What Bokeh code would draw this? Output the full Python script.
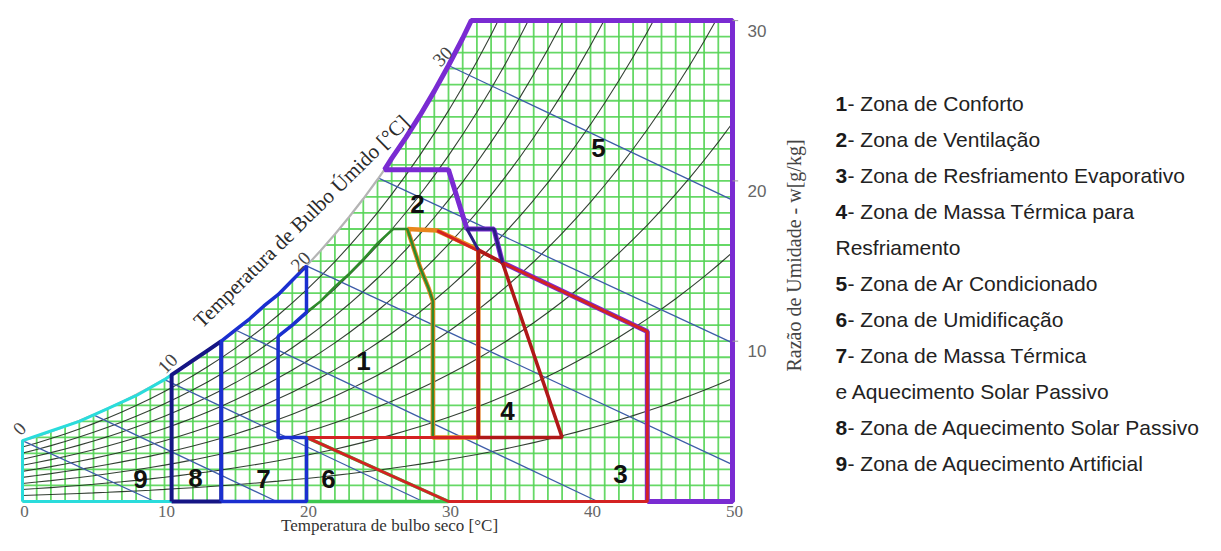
import numpy as np
from bokeh.plotting import figure
from bokeh.models import Range1d
from bokeh.core.properties import value
from bokeh.embed import file_html
from bokeh.resources import INLINE

# ------------------------------------------------------------------ data
# saturation vapour pressure of water (kPa) for dry-bulb 0..50 °C
temp_c = list(range(0, 51))
p_sat_kpa = [0.6112, 0.6571, 0.7060, 0.7581, 0.8135, 0.8726, 0.9354, 1.0021, 1.0730, 1.1482,
             1.2282, 1.3129, 1.4028, 1.4981, 1.5989, 1.7057, 1.8187, 1.9383, 2.0647, 2.1982,
             2.3392, 2.4881, 2.6452, 2.8109, 2.9856, 3.1697, 3.3637, 3.5679, 3.7828, 4.0089,
             4.2467, 4.4966, 4.7592, 5.0351, 5.3247, 5.6286, 5.9475, 6.2818, 6.6324, 6.9997,
             7.3844, 7.7873, 8.2090, 8.6503, 9.1118, 9.5944, 10.099, 10.626, 11.177, 11.752,
             12.352]
p_atm_kpa = 101.325
rh_levels = [0.1, 0.2, 0.3, 0.4, 0.5, 0.6, 0.7, 0.8, 0.9]
sat_top_T = 31.6          # dry bulb where the saturation curve reaches w = 30 g/kg
w_top = 30                # top of the chart (g/kg)

# wet-bulb lines (°C): start on saturation curve, end on chart border
wb_temps = [0, 5, 10, 15, 20, 25, 30]
wb_start_w = [3.8, 5.4, 7.6, 10.7, 14.7, 20.2, 27.2]
wb_end_T = [9.3, 17.9, 28.2, 40.5, 50, 50, 50]
wb_end_w = [0, 0, 0, 0, 2.3, 9.9, 18.8]

# bioclimatic zones (dry bulb °C, humidity ratio g/kg)
zone9_T = [0, 0, 2, 4, 6, 8, 10, 10.5, 10.5, 0]
zone9_w = [0, 3.8, 4.4, 5.0, 5.8, 6.6, 7.6, 7.9, 0, 0]
zone8_T = [10.5, 10.5, 11, 12, 13, 14, 14, 10.5]
zone8_w = [0, 7.9, 8.2, 8.8, 9.4, 10.0, 0, 0]
zone7_T = [14, 14, 15, 16, 17, 18, 19, 20, 20, 19, 18, 18, 20, 20, 14]
zone7_w = [0, 10.0, 10.7, 11.4, 12.2, 12.9, 13.8, 14.7, 11.8, 11.0, 10.3, 4, 4, 0, 0]
zone1_T = [18, 18, 19, 20, 21, 22, 23, 24, 25, 26.1, 27.1, 28.0, 28.6, 28.9, 28.9, 18]
zone1_w = [4, 10.3, 11.0, 11.8, 12.5, 13.4, 14.2, 15.1, 16.1, 17.0, 17.0, 14.6, 13.3, 12.5, 4, 4]
zone2_T = [27.1, 29.2, 32.1, 32.1, 28.9, 28.9, 28.6, 28.0, 27.1]
zone2_w = [17.0, 16.9, 15.7, 4, 4, 12.5, 13.3, 14.6, 17.0]
zone3_T = [29.2, 33.8, 44, 44, 30, 20, 32.1, 32.1]
zone3_w = [16.9, 14.9, 10.6, 0, 0, 4, 4, 15.7]
zone4_T = [33.8, 32.1, 32.1, 38.0, 33.8]
zone4_w = [14.9, 15.7, 4, 4, 14.9]
zone5_T = [44, 50, 50, 31.6, 31, 30, 29, 28, 27, 26, 25.5, 30.0, 31.3, 33.2, 33.8, 44, 44]
zone5_w = [0, 0, 30, 30, 28.9, 27.2, 25.6, 24.1, 22.7, 21.4, 20.7, 20.7, 17.0, 17.0, 14.9, 10.6, 0]
zone5_edge_T = [32.1, 31.3, 33.2, 33.8]
zone5_edge_w = [15.7, 17.0, 17.0, 14.9]
zone6_T = [20, 30, 20, 20]
zone6_w = [4, 0, 0, 4]

zone_names = ["1", "2", "3", "4", "5", "6", "7", "8", "9"]

x_ticks = [0, 10, 20, 30, 40, 50]
y_ticks = [10, 20, 30]
wb_label_vals = ["0", "10", "20", "30"]

legend_num = ["1", "2", "3", "4", "", "5", "6", "7", "", "8", "9"]
legend_txt = ["- Zona de Conforto", "- Zona de Ventilação", "- Zona de Resfriamento Evaporativo",
              "- Zona de Massa Térmica para", "Resfriamento", "- Zona de Ar Condicionado",
              "- Zona de Umidificação", "- Zona de Massa Térmica", "e Aquecimento Solar Passivo",
              "- Zona de Aquecimento Solar Passivo", "- Zona de Aquecimento Artificial"]

# ------------------------------------------------------------------ layout helpers
W, H = 1205, 535
SX, SY = 14.2, 16.03          # px per °C, px per g/kg
OX, OY = 22.0, 501.0          # canvas px of (0 °C, 0 g/kg)


def dx(px):                   # picture pixel -> data (x)
    return (px - OX) / SX


def dy(py):                   # picture pixel -> data (y)
    return (OY - py) / SY


p = figure(width=W, height=H, output_backend="svg", toolbar_location=None,
           x_range=Range1d(-OX / SX, (W - OX) / SX), y_range=Range1d((OY - H) / SY, OY / SY),
           x_axis_location=None, y_axis_location=None, min_border=0)
p.outline_line_color = None
p.grid.visible = False
p.background_fill_color = "white"
p.border_fill_color = "white"

T = np.array(temp_c, dtype=float)
ps = np.array(p_sat_kpa)
w_sat = 622 * ps / (p_atm_kpa - ps)

# green grid (1 °C x 1 g/kg)
gx = np.arange(0, 51)
p.segment(x0=gx, y0=0, x1=gx, y1=w_top, line_color="#55d455", line_width=1.8, line_alpha=0.9)
gy = np.arange(0, 31)
p.segment(x0=0, y0=gy, x1=50, y1=gy, line_color="#55d455", line_width=1.8, line_alpha=0.9)

# relative humidity curves, stopped at the top of the chart
rh_xs, rh_ys = [], []
for phi in rh_levels:
    pv = phi * ps
    wv = 622 * pv / (p_atm_kpa - pv)
    xs, ys = [], []
    for i in range(len(T)):
        if wv[i] <= w_top:
            xs.append(T[i]); ys.append(wv[i])
        else:
            f = (w_top - wv[i - 1]) / (wv[i] - wv[i - 1])
            xs.append(T[i - 1] + f * (T[i] - T[i - 1])); ys.append(w_top)
            break
    rh_xs.append(xs); rh_ys.append(ys)
p.multi_line(rh_xs, rh_ys, line_color="#1e2a1e", line_width=1.1, line_alpha=0.9)

# wet-bulb lines
p.segment(x0=wb_temps, y0=wb_start_w, x1=wb_end_T, y1=wb_end_w,
          line_color="#3d5ca8", line_width=1.3)

# white mask above the saturation curve (hides the grid there)
sat_mask = T <= 31
mx = list(T[sat_mask]) + [sat_top_T, 50.2, 50.2, -2, -2]
my = list(w_sat[sat_mask]) + [w_top, w_top, 32, 32, w_sat[0]]
p.patch(mx, my, fill_color="white", line_color=None)

# saturation curve
p.line(list(T[sat_mask]) + [sat_top_T], list(w_sat[sat_mask]) + [w_top],
       line_color="#b4b4b4", line_width=2.2)

# zones
p.line(zone9_T, zone9_w, line_color="#2adcdc", line_width=3)
p.line(zone6_T, zone6_w, line_color="#3cc850", line_width=3.5)
p.line(zone2_T, zone2_w, line_color="#e8861c", line_width=4.5)
p.line(zone1_T, zone1_w, line_color="#2e8a2a", line_width=2.5)
p.line(zone5_T, zone5_w, line_color="#7a2bd2", line_width=5)
p.line(zone3_T, zone3_w, line_color="#d42222", line_width=3)
p.line(zone4_T, zone4_w, line_color="#b01818", line_width=3.5)
p.line(zone5_edge_T, zone5_edge_w, line_color="#2c1d86", line_width=3)
p.line(zone8_T, zone8_w, line_color="#151585", line_width=4)
p.line(zone7_T, zone7_w, line_color="#1a2fd0", line_width=3.5)

# zone numbers
zone_pos = {"1": (363, 360), "2": (417, 203), "3": (620, 473), "4": (507, 410),
            "5": (598, 147), "6": (328, 478), "7": (263, 478), "8": (195, 477), "9": (140, 478)}
p.text(x=[dx(zone_pos[n][0]) for n in zone_names], y=[dy(zone_pos[n][1]) for n in zone_names],
       text=zone_names, text_font=value("Liberation Sans"), text_font_style="bold",
       text_font_size="26px", text_color="#111111", text_align="center", text_baseline="middle")

# x tick labels
p.text(x=x_ticks, y=[dy(511)] * len(x_ticks), text=[str(t) for t in x_ticks],
       text_font=value("Liberation Serif"), text_font_size="17px", text_color="#666666",
       text_align="center", text_baseline="middle", x_offset=2)
# y ticks + labels
p.segment(x0=[50] * len(y_ticks), y0=y_ticks, x1=[50.4] * len(y_ticks), y1=y_ticks,
          line_color="#999999", line_width=1)
p.text(x=[50] * len(y_ticks), y=y_ticks, text=[str(t) for t in y_ticks],
       text_font=value("Liberation Sans"), text_font_size="17px", text_color="#666666",
       text_align="left", text_baseline="middle", x_offset=15, y_offset=10)

# wet-bulb labels along the saturation curve
wb_lab_px = [(19, 428), (167, 363), (300, 261), (442, 56)]
p.text(x=[dx(a) for a, b in wb_lab_px], y=[dy(b) for a, b in wb_lab_px], text=wb_label_vals,
       angle=0.8, text_font=value("Liberation Serif"), text_font_size="19px",
       text_color="#444444", text_align="center", text_baseline="middle")

# axis titles
p.text(x=[dx(301)], y=[dy(221)], text=["Temperatura de Bulbo Úmido [°C]"], angle=0.777,
       text_font=value("Liberation Serif"), text_font_size="21px", text_color="#2a2a2a",
       text_align="center", text_baseline="middle")
p.text(x=[dx(389)], y=[dy(525)], text=["Temperatura de bulbo seco [°C]"],
       text_font=value("Liberation Serif"), text_font_size="17px", text_color="#333333",
       text_align="center", text_baseline="alphabetic")
p.text(x=[dx(793)], y=[dy(255)], text=["Razão de Umidade - w[g/kg]"], angle=np.pi / 2,
       text_font=value("Liberation Serif"), text_font_size="20px", text_color="#444444",
       text_align="center", text_baseline="middle")

# legend
base_y = [dy(103 + 36 * k) for k in range(len(legend_txt))]
p.text(x=[dx(835)] * len(legend_num), y=base_y, text=legend_num,
       text_font=value("Liberation Sans"), text_font_style="bold", text_font_size="21px",
       text_color="#1a1a1a", text_align="left", text_baseline="alphabetic")
txt_x = [dx(847) if n else dx(835) for n in legend_num]
p.text(x=txt_x, y=base_y, text=legend_txt,
       text_font=value("Liberation Sans"), text_font_size="21px",
       text_color="#222222", text_align="left", text_baseline="alphabetic")

open("out.html", "w").write(file_html(p, INLINE))
